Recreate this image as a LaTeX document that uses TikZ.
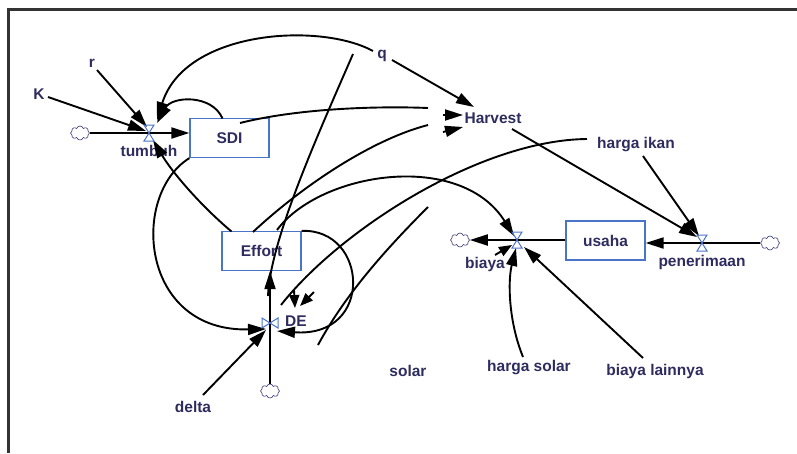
\documentclass[tikz,border=0pt]{standalone}
\usepackage{fontspec}
\setmainfont{Liberation Sans}
\usetikzlibrary{arrows.meta,shapes.symbols}
\definecolor{txt}{HTML}{2E2C5E}
\definecolor{boxc}{HTML}{4A74C8}
\definecolor{cloudc}{HTML}{3A3A7A}
\definecolor{framec}{HTML}{333333}
\tikzset{
 lbl/.style={font=\fontsize{15.5}{18}\selectfont\bfseries, text=txt, inner sep=0pt},
 stock/.style={draw=boxc, line width=1.2pt, minimum width=79pt, minimum height=39pt, inner sep=0pt, font=\fontsize{15.5}{18}\selectfont\bfseries, text=txt},
 conn/.style={line width=1.9pt, draw=black},
 arr/.style={conn, -{Triangle[length=18pt,width=11pt]}},
 sarr/.style={conn, -{Triangle[length=13pt,width=10pt]}},
 valve/.style={draw=boxc, line width=1pt},
 cloudn/.style={cloud, cloud puffs=8, draw=cloudc, line width=0.6pt, minimum width=19pt, minimum height=14pt, inner sep=0pt},
}
\begin{document}
\begin{tikzpicture}[x=1pt,y=-1pt]
\useasboundingbox (0,0) rectangle (797,453);
\draw[framec, line width=3pt] (8.5,453) -- (8.5,9) -- (797,9);

% nodes
\node[cloudn] (cT) at (80,133) {};
\coordinate (vT) at (149,133);
\node[lbl] (tumbuh) at (149,151) {tumbuh};
\node[stock] (SDI) at (229.5,138) {SDI};
\node[lbl] (K) at (39,94) {K};
\node[lbl] (r) at (92,63) {r};
\node[lbl] (q) at (382,56) {q};
\node[lbl] (Harvest) at (493,118) {Harvest};
\node[lbl] (hikan) at (636,145) {harga ikan};
\node[stock] (Effort) at (261.5,251) {Effort};
\coordinate (vDE) at (270,323);
\node[lbl] (DE) at (296,321) {DE};
\node[cloudn] (cB) at (270,391) {};
\node[lbl] (delta) at (193,407) {delta};
\node[lbl] (solar) at (408,371) {solar};
\node[stock] (usaha) at (605.5,240.5) {usaha};
\coordinate (vP) at (702,243);
\node[lbl] (pen) at (702,262) {penerimaan};
\node[cloudn] (cR) at (770,243) {};
\coordinate (vB) at (517,240);
\node[lbl] (biaya) at (485,264) {biaya};
\node[cloudn] (cL) at (460,240) {};
\node[lbl] (hsolar) at (529,368) {harga solar};
\node[lbl] (blain) at (655,371) {biaya lainnya};

% loose ends
\coordinate (g1) at (428,108);
\coordinate (g2) at (428,125);
\coordinate (g3) at (281,305);
\coordinate (s1) at (428,207);
\coordinate (s2) at (318,345);
\coordinate (l1) at (353,54);
\coordinate (l2) at (268,296);

% flows
\draw[arr] (cT.east) -- (SDI.west |- vT);
\draw[arr] (cB.north) -- (vDE |- Effort.south);
\draw[arr] (cR.west) -- (usaha.east |- vP);
\draw[arr] (usaha.west |- vB) -- (cL.east);

% tumbuh inputs
\draw[arr] ([shift={(9,3)}]K.center) -- ([shift={(-3,-2)}]vT);
\draw[arr] ([shift={(5,7)}]r.center) -- ([shift={(-2,-6)}]vT);
\draw[arr] ([shift={(-7,-19.5)}]SDI.center) .. controls (212,94) and (172,96) .. ([shift={(8,-10)}]vT);
\draw[arr] ([shift={(-9,-5)}]q.center) .. controls (320,22) and (185,30) .. ([shift={(8,-13)}]vT);
\draw[arr] ([shift={(-30,-19.5)}]Effort.center) .. controls (200,205) and (172,172) .. ([shift={(4,7)}]vT);

% Harvest inputs
\draw[arr] ([shift={(10,4)}]q.center) -- ([shift={(-19,-11)}]Harvest.center);
\draw[conn] ([shift={(10.5,-15)}]SDI.center) .. controls (300,108) and (380,106) .. (g1);
\draw[arr] ([shift={(-50,-3)}]Harvest.center) -- ([shift={(-30,-3)}]Harvest.center);
\draw[conn] ([shift={(-8.5,-19)}]Effort.center) .. controls (300,188) and (370,140) .. (g2);
\draw[arr] ([shift={(-50,14)}]Harvest.center) -- ([shift={(-30,9)}]Harvest.center);

% Effort -> biaya
\draw[arr] ([shift={(15.5,-21)}]Effort.center) .. controls (320,172) and (460,150) .. ([shift={(-3,-4)}]vB);

% harga ikan -> DE
\draw[conn] ([shift={(-49,-6)}]hikan.center) .. controls (480,140) and (340,230) .. (g3);
\draw[sarr] ([shift={(-2,-31)}]DE.center) -- ([shift={(-1,-13)}]DE.center);
\draw[sarr] ([shift={(18,-29)}]DE.center) -- ([shift={(4,-15)}]DE.center);

% solar line and slanted line
\draw[conn] (s1) .. controls (385,250) and (345,295) .. (s2);
\draw[conn] (l1) .. controls (320,130) and (270,240) .. (l2);

% DE inputs
\draw[arr] (SDI.south west) .. controls (130,195) and (140,332) .. ([shift={(-4,6)}]vDE);
\draw[arr] ([shift={(10,-12)}]delta.center) -- ([shift={(-4,7)}]vDE);
\draw[arr] (Effort.north east) .. controls (368,228) and (375,338) .. ([shift={(7,8)}]vDE);

% penerimaan inputs
\draw[arr] ([shift={(19,11)}]Harvest.center) -- ([shift={(-5,-6)}]vP);
\draw[arr] ([shift={(7,11)}]hikan.center) -- ([shift={(-3,-7)}]vP);

% biaya inputs
\draw[arr] ([shift={(-6,-11)}]hsolar.center) .. controls (508,320) and (508,280) .. ([shift={(-1,8)}]vB);
\draw[arr] ([shift={(-12,-13)}]blain.center) -- ([shift={(7,7)}]vB);
\draw[sarr] ([shift={(-22,15)}]vB) -- ([shift={(-5,5)}]vB);

% valves
\foreach \v in {vT,vB,vP}{
 \draw[valve] ([shift={(-5,-8)}]\v) -- ([shift={(5,-8)}]\v) -- ([shift={(-5,8)}]\v) -- ([shift={(5,8)}]\v) -- cycle;
}
\draw[valve] ([shift={(-8,-5)}]vDE) -- ([shift={(-8,5)}]vDE) -- ([shift={(8,-5)}]vDE) -- ([shift={(8,5)}]vDE) -- cycle;
\end{tikzpicture}
\end{document}
